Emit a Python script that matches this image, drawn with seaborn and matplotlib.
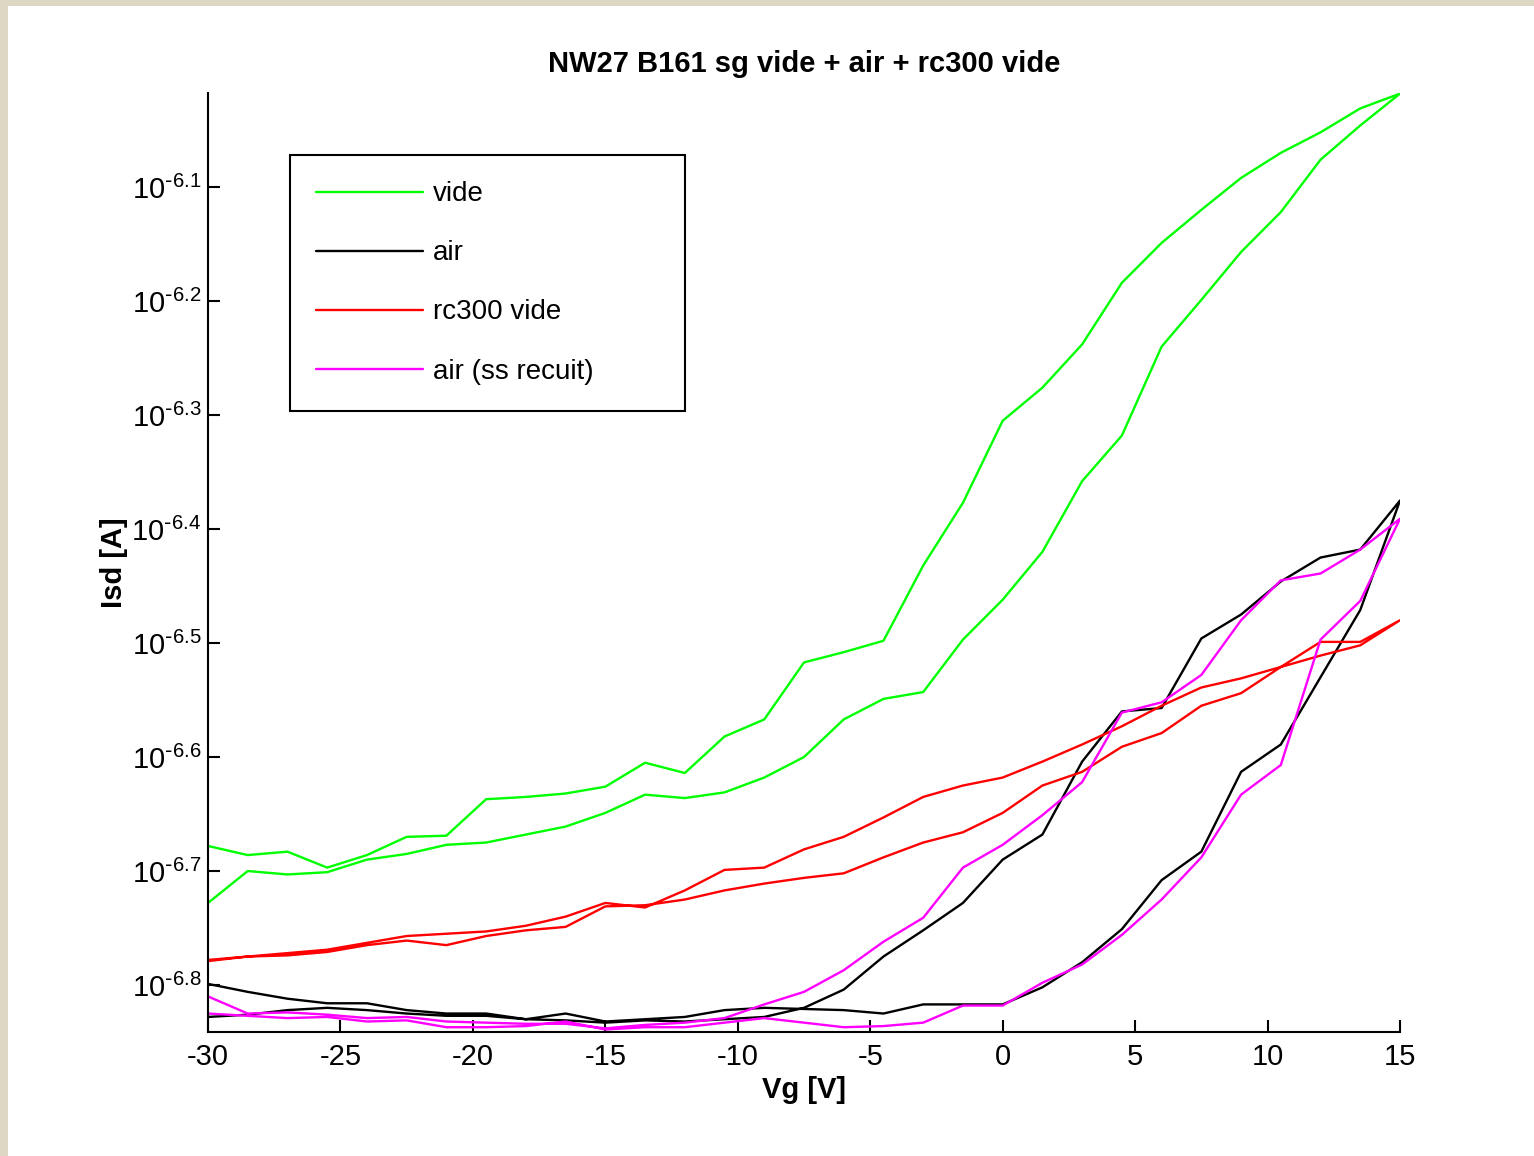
import numpy as np
import pandas as pd
import matplotlib
matplotlib.use("Agg")
import matplotlib.pyplot as plt
import seaborn as sns
from matplotlib.ticker import FixedLocator, FixedFormatter, NullLocator
from matplotlib.patches import Rectangle

# ---------------- data (log10 of Isd [A]) ----------------
vg = [-30, -28.5, -27, -25.5, -24, -22.5, -21, -19.5, -18, -16.5, -15,
      -13.5, -12, -10.5, -9, -7.5, -6, -4.5, -3, -1.5, 0,
      1.5, 3, 4.5, 6, 7.5, 9, 10.5, 12, 13.5, 15]

# "vide" : forward sweep (-30 -> 15) and backward sweep (listed by ascending Vg)
vide_fwd = [-6.728, -6.700, -6.703, -6.701, -6.690, -6.685, -6.677, -6.675, -6.668, -6.661, -6.649,
            -6.633, -6.636, -6.631, -6.618, -6.600, -6.567, -6.549, -6.543, -6.497, -6.462,
            -6.420, -6.358, -6.318, -6.240, -6.199, -6.157, -6.122, -6.076, -6.046, -6.018]
vide_bwd = [-6.678, -6.686, -6.683, -6.697, -6.686, -6.670, -6.669, -6.637, -6.635, -6.632, -6.626,
            -6.605, -6.614, -6.582, -6.567, -6.517, -6.508, -6.498, -6.432, -6.377, -6.305,
            -6.276, -6.238, -6.184, -6.149, -6.120, -6.092, -6.070, -6.052, -6.031, -6.018]

air_fwd = [-6.828, -6.826, -6.822, -6.820, -6.822, -6.825, -6.827, -6.827, -6.830, -6.825, -6.832,
           -6.830, -6.828, -6.822, -6.820, -6.821, -6.822, -6.825, -6.817, -6.817, -6.817,
           -6.802, -6.780, -6.751, -6.708, -6.683, -6.613, -6.589, -6.530, -6.471, -6.375]
air_bwd = [-6.799, -6.806, -6.812, -6.816, -6.816, -6.822, -6.825, -6.825, -6.830, -6.831, -6.833,
           -6.831, -6.832, -6.830, -6.828, -6.820, -6.804, -6.775, -6.752, -6.728, -6.690,
           -6.668, -6.604, -6.560, -6.557, -6.496, -6.475, -6.446, -6.425, -6.418, -6.375]

rc300_fwd = [-6.779, -6.775, -6.774, -6.771, -6.765, -6.761, -6.765, -6.757, -6.752, -6.749, -6.731,
             -6.730, -6.725, -6.717, -6.711, -6.706, -6.702, -6.688, -6.675, -6.666, -6.649,
             -6.625, -6.613, -6.591, -6.579, -6.555, -6.544, -6.521, -6.499, -6.499, -6.480]
rc300_bwd = [-6.778, -6.775, -6.772, -6.769, -6.763, -6.757, -6.755, -6.753, -6.748, -6.740, -6.728,
             -6.732, -6.717, -6.699, -6.697, -6.681, -6.670, -6.653, -6.635, -6.625, -6.618,
             -6.604, -6.589, -6.573, -6.555, -6.539, -6.531, -6.521, -6.511, -6.502, -6.480]

ssr_fwd = [-6.825, -6.827, -6.829, -6.828, -6.832, -6.831, -6.837, -6.837, -6.836, -6.832, -6.839,
           -6.837, -6.837, -6.833, -6.829, -6.833, -6.837, -6.836, -6.833, -6.818, -6.818,
           -6.798, -6.782, -6.756, -6.725, -6.688, -6.633, -6.607, -6.497, -6.463, -6.391]
ssr_bwd = [-6.810, -6.825, -6.824, -6.826, -6.829, -6.828, -6.832, -6.833, -6.834, -6.834, -6.838,
           -6.835, -6.833, -6.829, -6.817, -6.806, -6.787, -6.762, -6.741, -6.697, -6.677,
           -6.651, -6.622, -6.561, -6.552, -6.528, -6.480, -6.445, -6.439, -6.418, -6.391]

series_names = ["vide", "air", "rc300 vide", "air (ss recuit)"]
series_colors = ["#00FF00", "#000000", "#FF0000", "#FF00FF"]

xtick_vals = [-30, -25, -20, -15, -10, -5, 0, 5, 10, 15]
xtick_labels = ["-30", "-25", "-20", "-15", "-10", "-5", "0", "5", "10", "15"]
ytick_exps = [-6.8, -6.7, -6.6, -6.5, -6.4, -6.3, -6.2, -6.1]
ytick_labels = [r"$10^{\text{-}6.8}$", r"$10^{\text{-}6.7}$", r"$10^{\text{-}6.6}$", r"$10^{\text{-}6.5}$",
                r"$10^{\text{-}6.4}$", r"$10^{\text{-}6.3}$", r"$10^{\text{-}6.2}$", r"$10^{\text{-}6.1}$"]

title = "NW27 B161 sg vide + air + rc300 vide"
xlabel = "Vg [V]"
ylabel = "Isd [A]"

# ---------------- build frames ----------------
pairs = [(vide_fwd, vide_bwd), (air_fwd, air_bwd), (rc300_fwd, rc300_bwd), (ssr_fwd, ssr_bwd)]
frames = []
for name, (fw, bw) in zip(series_names, pairs):
    x = list(vg) + list(vg[::-1])
    ylog = list(fw) + list(bw[::-1])
    frames.append(pd.DataFrame({"Vg": x, "Isd": 10.0 ** np.array(ylog), "order": range(len(x)),
                                "serie": name}))

# ---------------- style ----------------
sns.set_style("white")
plt.rcParams["font.family"] = ["Liberation Sans", "DejaVu Sans"]
plt.rcParams["mathtext.default"] = "regular"
plt.rcParams["axes.unicode_minus"] = False
plt.rcParams["text.color"] = "black"
plt.rcParams["axes.labelcolor"] = "black"
plt.rcParams["xtick.color"] = "black"
plt.rcParams["ytick.color"] = "black"

W, H = 1534, 1156
fig = plt.figure(figsize=(W / 100, H / 100), dpi=100, facecolor="white")
ax = fig.add_axes([208 / W, 1 - 1032 / H, (1400 - 208) / W, (1032 - 93) / H])
ax.set_facecolor("white")

for df, c, name in zip(frames, series_colors, series_names):
    sns.lineplot(data=df, x="Vg", y="Isd", sort=False, estimator=None, color=c,
                 linewidth=1.7, label=name, ax=ax)

ax.set_yscale("log")
ax.set_xlim(-30, 15)
ax.set_ylim(10 ** -6.8412, 10 ** -6.0175)

ax.xaxis.set_major_locator(FixedLocator(xtick_vals))
ax.xaxis.set_major_formatter(FixedFormatter(xtick_labels))
ax.yaxis.set_major_locator(FixedLocator([10 ** e for e in ytick_exps]))
ax.yaxis.set_major_formatter(FixedFormatter(ytick_labels))
ax.yaxis.set_minor_locator(NullLocator())
ax.xaxis.set_minor_locator(NullLocator())

for s in ["top", "right"]:
    ax.spines[s].set_visible(False)
for s in ["left", "bottom"]:
    ax.spines[s].set_color("black")
    ax.spines[s].set_linewidth(1.5)

ax.tick_params(axis="both", which="major", direction="in", length=8.5, width=1.5,
               labelsize=21, colors="black", labelcolor="black",
               bottom=True, left=True, top=False, right=False)
ax.tick_params(axis="x", pad=8)
ax.tick_params(axis="y", pad=5)

ax.set_xlabel(xlabel, fontsize=21, fontweight="bold", color="black")
ax.set_ylabel(ylabel, fontsize=21, fontweight="bold", color="black")
ax.xaxis.set_label_coords(0.5, -0.047)
ax.yaxis.set_label_coords(-0.067, 0.5)
ax.set_title(title, fontsize=21, fontweight="bold", pad=15, color="black")
ax.grid(False)

leg = ax.legend(loc="upper left", bbox_to_anchor=(0.0688, 0.672, 0.3314, 0.262), mode="expand",
                fontsize=20, frameon=True, fancybox=False, shadow=False, framealpha=1,
                edgecolor="black", handlelength=3.85, handletextpad=0.35,
                labelspacing=1.19, borderpad=0.95, borderaxespad=0)
leg.get_frame().set_linewidth(1.5)
for t in leg.get_texts():
    t.set_color("black")
for line in leg.get_lines():
    line.set_linewidth(1.7)

# beige window border (top and left)
fig.patches.append(Rectangle((0, 1 - 6 / H), 1, 6 / H, transform=fig.transFigure,
                             facecolor="#DDD8C3", edgecolor="none", zorder=0))
fig.patches.append(Rectangle((0, 0), 8 / W, 1, transform=fig.transFigure,
                             facecolor="#DDD8C3", edgecolor="none", zorder=0))

fig.savefig("out.png", dpi=100, facecolor="white")
